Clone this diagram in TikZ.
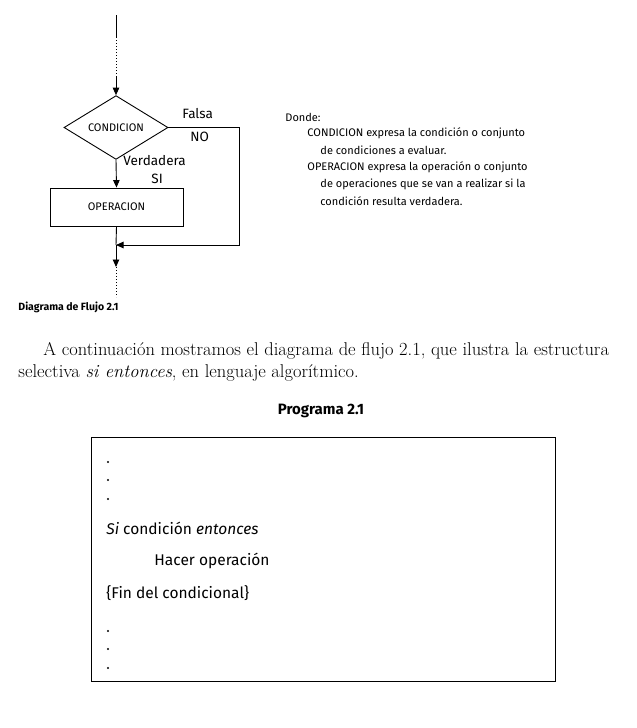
\documentclass[tikz,border=0pt]{standalone}
\usepackage{fontspec}
\newfontfamily\sansf{Fira Sans}
\usetikzlibrary{arrows.meta,shapes.geometric}
\begin{document}
\begin{tikzpicture}[x=1pt,y=-1pt,line width=0.9pt,
  tip/.style={-{Triangle[width=6.5pt,length=7.5pt]}},
  dots/.style={dotted,line width=1pt},
  lbl/.style={font=\sansf\fontsize{13.5}{15}\selectfont,inner sep=0,anchor=west},
  small/.style={font=\sansf\fontsize{11}{12}\selectfont},
  expl/.style={font=\sansf\fontsize{11}{12}\selectfont,inner sep=0,anchor=west},
  prog/.style={font=\sansf\fontsize{15.5}{17}\selectfont,inner sep=0,anchor=west},
  serif/.style={font=\fontsize{18.5}{21}\selectfont,inner sep=0,anchor=west},
  pdot/.style={circle,fill,inner sep=0,minimum size=2.4pt}]
\useasboundingbox (0,0) rectangle (637,728);
% flowchart
\coordinate (t0) at (116,15);
\coordinate (t1) at (116,37);
\coordinate (t2) at (116,77);
\node[diamond,draw,minimum width=104pt,minimum height=45pt,inner sep=0,small] (cond) at (116,127.5) {CONDICION};
\node[rectangle,draw,minimum width=133pt,minimum height=38pt,inner sep=0,small] (op) at (116.5,207) {OPERACION};
\coordinate (rt) at (239,127.5);
\coordinate (rb) at (239,245);
\coordinate (j) at (116,245);
\coordinate (b1) at (116,267);
\coordinate (b2) at (116,297);
\draw (t0) -- (t1);
\draw[dots] (t1) -- (t2);
\draw[tip] (t2) -- (cond.north);
\draw[tip] (cond.south) -- (op.north);
\draw[tip] (cond.east) -- (rt) -- (rb) -- (j);
\draw (op.south) -- (j);
\draw[tip] (j) -- (b1);
\draw[dots] (b1) -- (b2);
\node[lbl] (falsa) at (182,114) {Falsa};
\node[lbl] (no) at (190,137) {NO};
\node[lbl] (verd) at (123,161) {Verdadera};
\node[lbl] (si) at (151,179) {SI};
% explanation
\node[expl] (e0) at (285,117) {Donde:};
\node[expl] (e1) at (307,133) {CONDICION expresa la condición o conjunto};
\node[expl] (e2) at (320,150) {de condiciones a evaluar.};
\node[expl] (e3) at (307,167) {OPERACION expresa la operación o conjunto};
\node[expl] (e4) at (320,184) {de operaciones que se van a realizar si la};
\node[expl] (e5) at (320,201) {condición resulta verdadera.};
% caption
\node[font=\sansf\bfseries\fontsize{10.5}{12}\selectfont,inner sep=0,anchor=west] (cap) at (18,307) {Diagrama de Flujo 2.1};
% paragraph
\node[serif] (p1) at (43,351) {A continuación mostramos el diagrama de flujo 2.1, que ilustra la estructura};
\node[serif] (p2) at (18,373) {selectiva \textit{si entonces}, en lenguaje algorítmico.};
\node[font=\sansf\bfseries\fontsize{15}{17}\selectfont,inner sep=0] (progt) at (321,411) {Programa 2.1};
% program box
\node[draw,line width=1pt,minimum width=464pt,minimum height=244pt,inner sep=0] (box) at (323,559) {};
\foreach \y/\n in {462/a,480/b,499/c,631/d,649/e,668/f} \node[pdot] (dot\n) at (108,\y) {};
\node[prog] (l1) at (106,528) {\textit{Si} condición \textit{entonces}};
\node[prog] (l2) at (154,561) {Hacer operación};
\node[prog] (l3) at (106,593) {\{Fin del condicional\}};
\end{tikzpicture}
\end{document}
